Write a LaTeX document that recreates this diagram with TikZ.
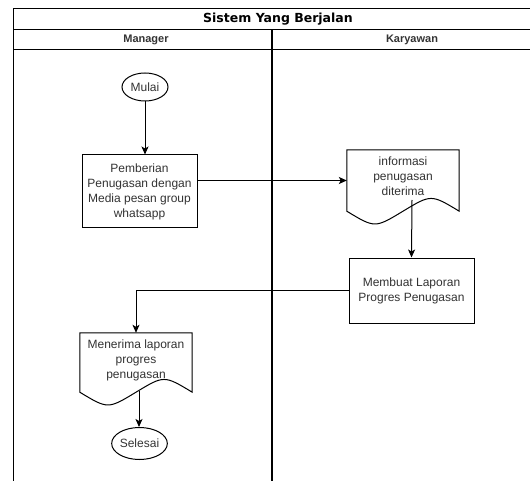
\documentclass[tikz,border=0pt]{standalone}
\usepackage{fontspec}
\setmainfont{Liberation Sans}
\newfontfamily\titlefont{DejaVu Sans}
\usetikzlibrary{arrows.meta,calc,shapes.geometric}
\definecolor{ink}{HTML}{333333}
\tikzset{
  lane/.style={line width=1.3pt,draw=black},
  txt/.style={text=ink,font=\fontsize{12}{15}\selectfont,align=center,inner sep=0pt},
  procbox/.style={draw=black,line width=1pt,fill=white,txt},
  terminal/.style={draw=black,line width=1pt,ellipse,txt},
  docframe/.style={inner sep=0pt},
  flow/.style={line width=1pt,-{Stealth[length=8pt,width=7pt,inset=2pt]}},
  headtext/.style={font=\bfseries\fontsize{11}{13}\selectfont,text=ink},
}
% document symbol: flat top, wavy bottom edge on the node's south side
\newcommand\docoutline[2]{%
  \draw[line width=1pt,fill=white] (#1.north west) -- (#1.north east) -- (#1.south east)
    .. controls ($(#1.south east)!0.5!(#1.south)+(0,-#2)$) .. (#1.south)
    .. controls ($(#1.south west)!0.5!(#1.south)+(0,#2)$) .. (#1.south west) -- cycle;}
\begin{document}
\begin{tikzpicture}[x=1pt,y=-1pt]
\useasboundingbox (0,0) rectangle (530,481);
\begin{scope}
\clip (0,0) rectangle (530,481);
% swimlane frame
\draw[lane] (13.5,520) -- (13.5,8.5) -- (560,8.5);
\draw[lane] (13.5,29.5) -- (560,29.5);
\draw[lane] (13.5,49.5) -- (560,49.5);
\draw[lane] (272,29.5) -- (272,520);
\end{scope}
\node[font=\titlefont\bfseries\fontsize{12.5}{14}\selectfont,text=black] (title) at (278,19) {Sistem Yang Berjalan};
\node[headtext] (lman) at (146,39.5) {Manager};
\node[headtext] (lkar) at (412,39.5) {Karyawan};

% Manager lane
\node[terminal,minimum width=46pt,minimum height=28pt] (mulai) at (145,87) {Mulai};
\node[procbox,minimum width=115pt,minimum height=73pt] (beri) at (139.5,191.5)
  {Pemberian\\Penugasan dengan\\Media pesan group\\whatsapp};
\node[docframe,minimum width=112pt,minimum height=59pt] (terimalap) at (136,362.5) {};
\docoutline{terimalap}{17}
\node[txt] (terimalaptext) at (136,360) {Menerima laporan\\progres\\penugasan};
\node[terminal,minimum width=48pt,minimum height=32pt] (selesai) at (139.5,443.5) {Selesai};

% Karyawan lane
\node[docframe,minimum width=112pt,minimum height=61pt] (info) at (403,180.5) {};
\docoutline{info}{17}
\node[txt] (infotext) at (403,176.5) {informasi\\penugasan\\diterima};
\node[procbox,minimum width=125pt,minimum height=65pt] (lapor) at (411.5,290.5)
  {Membuat Laporan\\Progres Penugasan};

% connectors
\coordinate (infoout) at (412,200);
\coordinate (terimaout) at (139,391);
\draw[flow] (mulai.south) -- (mulai.south |- beri.north);
\draw[flow] (beri.east |- info.west) -- (info.west);
\draw[flow] (infoout) -- (lapor.north);
\draw[flow] (lapor.west) -| (terimalap.north);
\draw[flow] (terimaout) -- (terimaout |- selesai.north);
\end{tikzpicture}
\end{document}
